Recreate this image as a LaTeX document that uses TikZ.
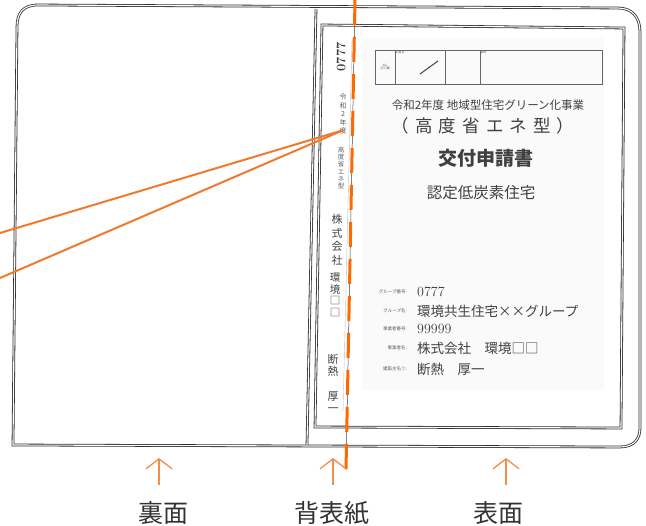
\documentclass[tikz,border=0pt]{standalone}
\usepackage{fontspec}
\newfontfamily\jp{Noto Sans CJK JP}
\newfontfamily\jpwide[LetterSpace=35]{Noto Sans CJK JP}
\usetikzlibrary{arrows.meta,positioning}
\definecolor{callout}{HTML}{F07A2C}
\definecolor{foldline}{HTML}{FF6A00}
\definecolor{pencil}{HTML}{2E2E2E}
\definecolor{print}{HTML}{404040}

\begin{document}
\begin{tikzpicture}[x=1pt,y=-1pt,
  folder/.style={draw=pencil,line width=.8pt,double=white,double distance=1.1pt},
  spine/.style={font=\jp\fontsize{7}{8.4}\selectfont,text=print!85,align=center,inner sep=0pt},
  spine big/.style={spine,font=\jp\fontsize{11}{13.5}\selectfont,text=print},
  heading/.style={font=\jp\fontsize{11.5}{12}\selectfont,text=print,inner sep=0pt},
  tiny/.style={font=\jp\fontsize{3}{3.6}\selectfont,text=print!80,align=center,inner sep=.5pt},
  field label/.style={font=\jp\fontsize{4.5}{5}\selectfont,text=print!85,anchor=east,inner sep=0pt},
  field value/.style={font=\jp\fontsize{13.5}{14}\selectfont,text=print,inner sep=0pt},
  callout line/.style={draw=callout,line width=2pt},
  pointer/.style={draw=callout!85,line width=1.3pt,-{Straight Barb[length=10pt,width=26pt]}},
  caption/.style={font=\jp\fontsize{25}{25}\selectfont,text=black!80,inner sep=0pt},
]
\useasboundingbox (0,0) rectangle (646,526);

\draw[folder] (13,445) -- (17,27) .. controls (17,13) and (23,5) .. (38,5) -- (618,8)
  .. controls (632,8) and (640,17) .. (640,32) -- (640,428)
  .. controls (640,439) and (634,447) .. (620,447) -- cycle;
\draw[folder] (316,9) -- (307,445);
\draw[folder] (322,25) -- (624,28) -- (621,428) -- (315,427) -- cycle;
\fill[black!2] (362,38) rectangle (604,390);
\draw[gray!50,line width=.4pt] (352,40) -- (343,412);

\draw[print!80,line width=.5pt] (375,50) rectangle (602,84);
\foreach \x in {395,445,480} \draw[print!80,line width=.5pt] (\x,50) -- (\x,84);
\node[tiny] (entry) at (385,67) {kkj\\記入欄};
\node[tiny,anchor=north west] (arrival) at (395,50) {到着日};
\node[tiny,anchor=north west] (remarks) at (480,50) {備考};
\draw[print,line width=1pt] (420,74) -- (438,61);

\node[heading] (program) at (488,105) {令和2年度 地域型住宅グリーン化事業};
\node[heading,font=\jpwide\fontsize{17.5}{18}\selectfont] (grade) at (483,126) {（高度省エネ型）};
\node[heading,font=\jp\bfseries\fontsize{19}{20}\selectfont] (form) at (486,158) {交付申請書};
\node[heading,font=\jp\fontsize{15.5}{16}\selectfont] (kind) at (481,193) {認定低炭素住宅};

\node[field label] (group no label) at (407,292) {グループ番号:};
\node[field value,font=\fontsize{14}{14}\selectfont,right=10pt of group no label] (group no) {0777};
\node[field label] (group label) at (407,311) {グループ名:};
\node[field value,right=10pt of group label] (group) {環境共生住宅××グループ};
\node[field label] (company no label) at (407,329) {事業者番号:};
\node[field value,font=\fontsize{14}{14}\selectfont,right=10pt of company no label] (company no) {99999};
\node[field label] (company label) at (407,348) {事業者名:};
\node[field value,right=10pt of company label] (company) {株式会社　環境□□};
\node[field label] (owner label) at (407,369) {建築主名①:};
\node[field value,right=10pt of owner label] (owner) {断熱　厚一};

\node[spine big,font=\bfseries\fontsize{13}{13}\selectfont,rotate=90] (spine no) at (341,57) {0777};
\node[spine] (spine year) at (343,114) {令\\和\\2\\年\\度};
\node[spine,font=\jp\fontsize{6.5}{7.2}\selectfont] (spine grade) at (341,168) {高\\度\\省\\エ\\ネ\\型};
\node[spine big] (spine company) at (337,240) {株\\式\\会\\社};
\node[spine big,font=\jp\fontsize{10.5}{11.5}\selectfont] (spine name) at (335,295) {環\\境\\□\\□};
\node[spine big,font=\jp\fontsize{11}{12}\selectfont] (spine owner) at (333,383) {断\\熱\\[13pt]厚\\一};

\coordinate (spine year tip) at ([yshift=4pt]spine year.south);
\coordinate (callout a) at (0,233);
\coordinate (callout b) at (0,278);
\draw[callout line] (callout a) -- (spine year tip);
\draw[callout line] (callout b) -- (spine year tip);

\coordinate (fold top) at (355,0);
\coordinate (fold bottom) at (346,470);
\draw[black!75,line width=.5pt] (fold top) -- (fold bottom);
\draw[draw=foldline,line width=3pt,dash pattern=on 25pt off 12pt] (fold top) -- (fold bottom);

\node[caption] (back cover) at (163,513) {裏面};
\node[caption] (spine cover) at (332,513) {背表紙};
\node[caption] (front cover) at (498,513) {表面};
\coordinate (back tail) at (159,485);   \coordinate (back tip) at (159,458);
\coordinate (spine tail) at (333,485);  \coordinate (spine tip) at (333,458);
\coordinate (front tail) at (506,485);  \coordinate (front tip) at (506,458);
\draw[pointer] (back tail) -- (back tip);
\draw[pointer] (spine tail) -- (spine tip);
\draw[pointer] (front tail) -- (front tip);
\end{tikzpicture}
\end{document}
